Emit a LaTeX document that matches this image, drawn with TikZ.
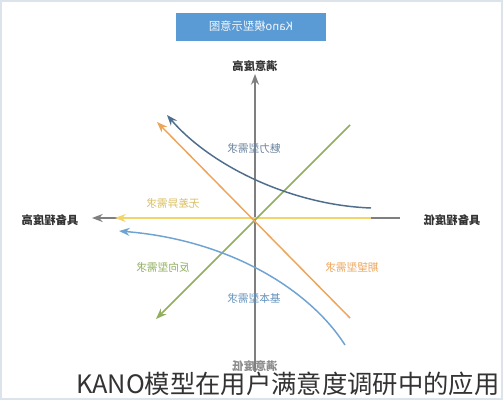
\documentclass[tikz,border=0pt]{standalone}
\usepackage{fontspec}
\usepackage{graphicx}
\setmainfont{Noto Sans CJK SC}
\usetikzlibrary{arrows.meta}
\definecolor{axisgray}{HTML}{7F7F7F}
\definecolor{titleblue}{HTML}{5B9BD5}
\definecolor{yel}{HTML}{F2D46A}
\definecolor{grn}{HTML}{8FAE5E}
\definecolor{org}{HTML}{EDA55A}
\definecolor{dblue}{HTML}{4F6D8C}
\definecolor{lblue}{HTML}{6FA3D2}
\definecolor{framec}{HTML}{DCE3EA}
\tikzset{
  axis/.style={draw=axisgray, line width=1.1pt},
  tip/.style={-{Stealth[length=8pt,width=6pt]}},
  curve/.style={line width=1.1pt},
  axlabel/.style={font=\fontsize{8.5}{9}\selectfont\bfseries, text=black!80, inner sep=1pt},
  clabel/.style={font=\fontsize{8}{9}\selectfont, inner sep=1pt},
}
\newcommand{\mir}[1]{\reflectbox{#1}}
\begin{document}
\begin{tikzpicture}[x=0.75pt,y=-0.75pt]
\useasboundingbox (0,0) rectangle (503,400);
\clip (0,0) rectangle (503,400);
\fill[white] (0,0) rectangle (503,400);
\draw[framec, line width=1.5pt] (1,1) rectangle (502,399);
% title
\node[fill=titleblue, minimum width=113pt, minimum height=21pt, inner sep=0pt,
      text=white!92!titleblue, font=\fontsize{8.5}{9}\selectfont] (title) at (251,26.5) {\mir{Kano模型示意图}};
% axes
\coordinate (c) at (255,218);
\coordinate (vbot) at (255,372);
\coordinate (vtop) at (255,74);
\coordinate (hright) at (400,218);
\coordinate (hleft) at (92,218);
\draw[axis, tip] (vbot) -- (vtop);
\draw[axis, tip] (hright) -- (hleft);
\node[axlabel] (top) at (255,66) {\mir{满意度高}};
\node[axlabel] (left) at (50,220) {\mir{具备程度高}};
\node[axlabel] (right) at (452,220) {\mir{具备程度低}};
\node[axlabel, text=black!45] (bot) at (255,366) {\mir{满意度低}};
% lines
\coordinate (y1) at (371,218);
\coordinate (y2) at (115,218);
\draw[yel, curve, line width=1.6pt, tip] (y1) -- (y2);
\coordinate (g1) at (350,125);
\coordinate (g2) at (156,319);
\draw[grn, curve, tip] (g1) -- (g2);
\coordinate (o1) at (350,318);
\coordinate (o2) at (157,122);
\draw[org, curve, tip] (o1) -- (o2);
\coordinate (b1) at (371,208);
\coordinate (b2) at (167,115);
\draw[dblue, curve, tip] (b1) .. controls (290,205) and (210,165) .. (b2);
\coordinate (l1) at (345,345);
\coordinate (l2) at (119,231);
\draw[lblue, curve, tip] (l1) .. controls (310,290) and (230,240) .. (l2);
% labels
\node[clabel, text=dblue!85] (meili) at (254,148) {\mir{魅力型需求}};
\node[clabel, text=yel!90!black] (wucha) at (173,203) {\mir{无差异需求}};
\node[clabel, text=grn] (fanxiang) at (163,267) {\mir{反向型需求}};
\node[clabel, text=org] (qiwang) at (352,267) {\mir{期望型需求}};
\node[clabel, text=lblue!90!black] (jiben) at (254,298) {\mir{基本型需求}};
% caption
\node[anchor=base west, inner sep=0pt, text=black!80, font=\fontsize{19}{21}\selectfont] (cap) at (76,393) {KANO模型在用户满意度调研中的应用};
\end{tikzpicture}
\end{document}
